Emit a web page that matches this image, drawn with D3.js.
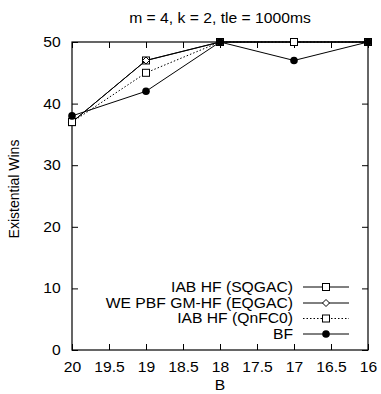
<!DOCTYPE html>
<html>
<head>
<meta charset="utf-8">
<script src="https://cdn.jsdelivr.net/npm/d3@7"></script>
<style>
body { margin: 0; background: #fff; }
text { font-family: "Liberation Sans", Arial, sans-serif; }
</style>
</head>
<body>
<div id="graph"></div>
<script>
// values
var xValues = [20, 19, 18, 17, 16];
var sqgac = [37, 47, 50, 50, 50];
var eqgac = [37, 47, 50, 50, 50];
var qnfc0 = [37, 45, 50, 50, 50];
var bf = [38, 42, 50, 47, 50];
var seriesNames = ["IAB HF (SQGAC)", "WE PBF GM-HF (EQGAC)", "IAB HF (QnFC0)", "BF"];
var xTicks = [20, 19.5, 19, 18.5, 18, 17.5, 17, 16.5, 16];
var yTicks = [0, 10, 20, 30, 40, 50];

var w = 381, h = 394;
var plotLeft = 72, plotRight = 368, plotTop = 42, plotBottom = 350;
var fontSize = "14px";
// the original picture is a bit wider than tall, so text is stretched sideways
var stretch = "scale(1.12,1)";

var svg = d3.select("div#graph").append("svg")
	.attr("width", w)
	.attr("height", h);

var x = d3.scaleLinear().domain([20, 16]).range([plotLeft, plotRight]);
var y = d3.scaleLinear().domain([0, 50]).range([plotBottom, plotTop]);

// frame
svg.append("rect")
	.attr("x", plotLeft).attr("y", plotTop)
	.attr("width", plotRight - plotLeft).attr("height", plotBottom - plotTop)
	.attr("fill", "none").attr("stroke", "#000").attr("stroke-width", 1.2);

// axes (ticks pointing inward, mirrored)
function styleAxis(g) {
	g.select(".domain").remove();
	g.selectAll("line").attr("stroke", "#000");
	g.selectAll("text").attr("font-size", fontSize).attr("fill", "#000")
		.attr("transform", stretch)
		.style("font-family", "'Liberation Sans', Arial, sans-serif");
}
svg.append("g")
	.attr("transform", "translate(0," + plotBottom + ")")
	.call(d3.axisBottom(x).tickValues(xTicks).tickSizeInner(-6).tickSizeOuter(0).tickPadding(12).tickFormat(d3.format("")))
	.call(styleAxis);
svg.append("g")
	.attr("transform", "translate(0," + plotTop + ")")
	.call(d3.axisTop(x).tickValues(xTicks).tickSizeInner(-6).tickSizeOuter(0).tickFormat(""))
	.call(styleAxis);
svg.append("g")
	.attr("transform", "translate(" + plotLeft + ",0)")
	.call(d3.axisLeft(y).tickValues(yTicks).tickSizeInner(-6).tickSizeOuter(0).tickPadding(10))
	.call(styleAxis);
svg.append("g")
	.attr("transform", "translate(" + plotRight + ",0)")
	.call(d3.axisRight(y).tickValues(yTicks).tickSizeInner(-6).tickSizeOuter(0).tickFormat(""))
	.call(styleAxis);

// labels
svg.append("text")
	.attr("transform", "translate(" + ((plotLeft + plotRight) / 2) + ",23) " + stretch)
	.attr("text-anchor", "middle").attr("font-size", fontSize)
	.text("m = 4, k = 2, tle = 1000ms");
svg.append("text")
	.attr("transform", "translate(19,189) rotate(-90)")
	.attr("text-anchor", "middle").attr("font-size", fontSize)
	.text("Existential Wins");
svg.append("text")
	.attr("transform", "translate(" + ((plotLeft + plotRight) / 2) + ",390) " + stretch)
	.attr("text-anchor", "middle").attr("font-size", fontSize)
	.text("B");

var series = [
	{name: seriesNames[0], values: sqgac, dash: null, marker: "square"},
	{name: seriesNames[1], values: eqgac, dash: null, marker: "diamond"},
	{name: seriesNames[2], values: qnfc0, dash: "1.5,2", marker: "square"},
	{name: seriesNames[3], values: bf, dash: null, marker: "circle"}
];

var line = d3.line()
	.x(function(d, i) { return x(xValues[i]); })
	.y(function(d) { return y(d); });

function drawMarker(g, type, cx, cy) {
	if (type == "square") {
		g.append("rect").attr("x", cx - 3.5).attr("y", cy - 3.5).attr("width", 7).attr("height", 7)
			.attr("fill", "#fff").attr("stroke", "#000").attr("stroke-width", 1);
	} else if (type == "diamond") {
		g.append("path").attr("d", "M" + cx + "," + (cy - 3.5) + "L" + (cx + 3.5) + "," + cy + "L" + cx + "," + (cy + 3.5) + "L" + (cx - 3.5) + "," + cy + "Z")
			.attr("fill", "#fff").attr("stroke", "#000").attr("stroke-width", 1);
	} else {
		g.append("circle").attr("cx", cx).attr("cy", cy).attr("r", 3.8).attr("fill", "#000");
	}
}

series.forEach(function(s) {
	svg.append("path")
		.datum(s.values)
		.attr("d", line)
		.attr("fill", "none")
		.attr("stroke", "#000")
		.attr("stroke-width", 1)
		.attr("stroke-dasharray", s.dash);
	var g = svg.append("g");
	s.values.forEach(function(v, i) { drawMarker(g, s.marker, x(xValues[i]), y(v)); });
});

// legend
var legendY = [287, 303, 318.5, 334];
series.forEach(function(s, i) {
	var ly = legendY[i];
	svg.append("text")
		.attr("transform", "translate(293," + ly + ") " + stretch)
		.attr("dy", "0.35em")
		.attr("text-anchor", "end").attr("font-size", fontSize)
		.text(s.name);
	svg.append("line")
		.attr("x1", 303).attr("x2", 349).attr("y1", ly).attr("y2", ly)
		.attr("stroke", "#000").attr("stroke-width", 1)
		.attr("stroke-dasharray", s.dash);
	drawMarker(svg.append("g"), s.marker, 326, ly);
});
</script>
</body>
</html>
